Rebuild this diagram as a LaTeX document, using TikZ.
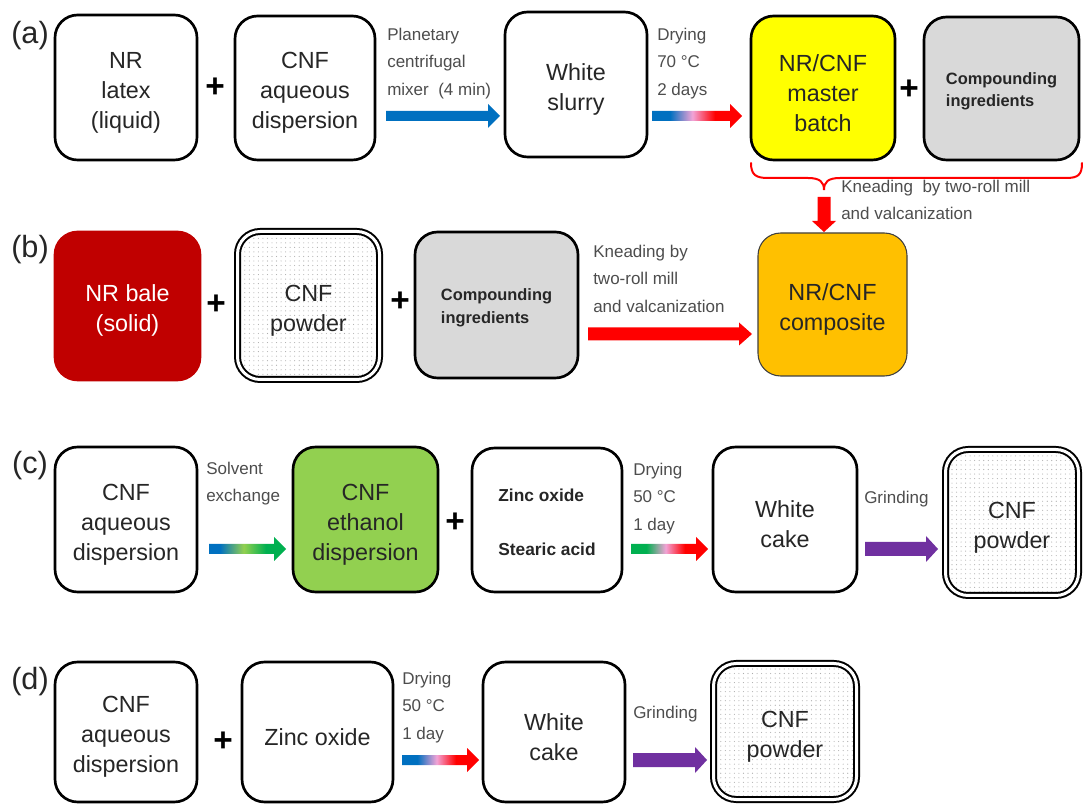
\documentclass[tikz,border=0pt]{standalone}
\usepackage{fontspec}
\setmainfont{Liberation Sans}
\usetikzlibrary{calc,patterns}
\definecolor{cBlue}{HTML}{0070C0}
\definecolor{cRed}{HTML}{FF0000}
\definecolor{cPink}{HTML}{F2A3D6}
\definecolor{cGreen}{HTML}{00B050}
\definecolor{cLGreen}{HTML}{92D050}
\definecolor{cPurple}{HTML}{7030A0}
\definecolor{cYellow}{HTML}{FFFF00}
\definecolor{cGray}{HTML}{D9D9D9}
\definecolor{cDRed}{HTML}{C00000}
\definecolor{cOrange}{HTML}{FFC000}
\definecolor{cText}{HTML}{262626}
\definecolor{cLab}{HTML}{4D4D4D}
\pgfdeclarehorizontalshading{gBlueRed}{100bp}{color(0bp)=(cBlue); color(35bp)=(cBlue); color(47.5bp)=(cPink); color(60bp)=(cRed); color(100bp)=(cRed)}
\pgfdeclarehorizontalshading{gGreenRed}{100bp}{color(0bp)=(cGreen); color(35bp)=(cGreen); color(47.5bp)=(cPink); color(60bp)=(cRed); color(100bp)=(cRed)}
\pgfdeclarehorizontalshading{gBlueGreen}{100bp}{color(0bp)=(cBlue); color(32bp)=(cBlue); color(47.5bp)=(cLGreen); color(62bp)=(cGreen); color(100bp)=(cGreen)}
\pgfdeclarepatternformonly{sdots}{\pgfqpoint{-1pt}{-1pt}}{\pgfqpoint{1pt}{1pt}}{\pgfqpoint{3.4pt}{3.4pt}}{%
  \pgfpathcircle{\pgfqpoint{0pt}{0pt}}{0.42pt}\pgfusepath{fill}}
\newcommand\tupA{\rule{0pt}{20pt}}
\newcommand\tupB{\rule{0pt}{13pt}}
% style, start, end, shaft half, head half, head length
\newcommand\fatarrow[6]{%
  \path[#1] ($(#2)+(0,-#4)$) -- ($(#3)+(-#6,-#4)$) -- ($(#3)+(-#6,-#5)$) -- (#3)
    -- ($(#3)+(-#6,#5)$) -- ($(#3)+(-#6,#4)$) -- ($(#2)+(0,#4)$) -- cycle;}
\begin{document}
\begin{tikzpicture}[x=0.75pt,y=-0.75pt,
  frame/.style n args={4}{at={({(#1+#3)/2},{(#2+#4)/2})}, minimum width={(#3-#1)*0.75pt}, minimum height={(#4-#2)*0.75pt}},
  box/.style={draw=black, line width=2pt, rounded corners=17pt, inner sep=0pt, align=center, text=cText, font=\fontsize{17.5}{22.5}\selectfont},
  pbox/.style={box, line width=1.5pt, double=white, double distance=2.25pt, pattern=sdots, pattern color=black!32},
  bbox/.style={box, font=\bfseries\fontsize{12.3}{17}\selectfont, align=left},
  lab/.style={anchor=north west, inner sep=0pt, align=left, text=cLab, font=\fontsize{12.75}{20.5}\selectfont},
  plus/.style={inner sep=0pt, font=\bfseries\fontsize{25}{25}\selectfont, text=black},
  tag/.style={inner sep=0pt, font=\fontsize{23}{23}\selectfont, text=cText},
]
\useasboundingbox[fill=white] (0,0) rectangle (1083,805);

% ---------------- (a)
\node[tag] (ta) at (30,36) {(a)};
\node[box, frame={55}{15}{197}{160}] (latex) {\tupA NR\\latex\\(liquid)};
\node[plus] (pa1) at (215,88) {+};
\node[box, frame={235}{16}{375}{160}] (cnfaq) {\tupA CNF\\aqueous\\dispersion};
\node[lab] (lpl) at (387,28) {Planetary\\centrifugal\\mixer\ \ (4 min)};
\node[box, frame={505}{12}{647}{157}] (slurry) {\tupA White\\slurry};
\node[lab] (ldr1) at (657,28) {Drying\\70 °C\\2 days};
\node[box, fill=cYellow, frame={751}{16}{895}{160}] (mb) {\tupA NR/CNF\\master\\batch};
\node[plus] (pa2) at (909,90) {+};
\node[bbox, fill=cGray, frame={924}{17}{1079}{160}] (comp1) {\tupB Compounding\\ingredients};

\coordinate (a1s) at (386,116); \coordinate (a1e) at (500,116);
\fatarrow{fill=cBlue}{a1s}{a1e}{5}{12}{12}
\coordinate (a2s) at (652,116); \coordinate (a2e) at (742,116);
\fatarrow{shading=gBlueRed}{a2s}{a2e}{5}{12}{12}

% brace and down arrow
\draw[cRed, line width=1.5pt, line cap=round]
  (751,163) .. controls (751,175) and (756,178) .. (768,178) -- (808,178)
  .. controls (820,178) and (824,182) .. (824,190)
  .. controls (824,182) and (828,178) .. (840,178) -- (1066,178)
  .. controls (1078,178) and (1082,175) .. (1082,163);
\node[lab] (lkn1) at (841,180) {Kneading\ \ by two-roll mill\\and valcanization};

% ---------------- (b)
\node[tag] (tb) at (30,250) {(b)};
\node[box, fill=cDRed, draw=cDRed, text=white, frame={55}{232}{200}{380}] (bale) {\tupA NR bale\\(solid)};
\node[plus] (pb1) at (216,305) {+};
\node[pbox, frame={237.5}{231.5}{379.5}{379.5}] (pow1) {\tupA CNF\\powder};
\node[plus] (pb2) at (400,302) {+};
\node[bbox, fill=cGray, frame={415}{232}{578}{378}] (comp2) {\tupB Compounding\\ingredients};
\node[lab] (lkn2) at (593,245) {Kneading by\\two-roll mill\\and valcanization};
\node[box, fill=cOrange, draw=black!75, line width=0.8pt, frame={758}{233}{907}{376}] (compo) {\tupA NR/CNF\\composite};

\coordinate (b1s) at (588,334); \coordinate (b1e) at (752,334);
\fatarrow{fill=cRed}{b1s}{b1e}{6.5}{11.5}{13}
\coordinate (dA) at (824,197); \coordinate (dB) at (824,232);
\path[fill=cRed] ($(dA)+(-6.5,0)$) -- ($(dB)+(-6.5,-11)$) -- ($(dB)+(-12,-11)$) -- (dB)
  -- ($(dB)+(12,-11)$) -- ($(dB)+(6.5,-11)$) -- ($(dA)+(6.5,0)$) -- cycle;

% ---------------- (c)
\node[tag] (tc) at (30,466) {(c)};
\node[box, frame={55}{447}{197}{592}] (aq3) {\tupA CNF\\aqueous\\dispersion};
\node[lab] (lsv) at (206,462) {Solvent\\exchange};
\node[box, fill=cLGreen, frame={293}{447}{438}{592}] (eth) {\tupA CNF\\ethanol\\dispersion};
\node[plus] (pc1) at (455,523) {+};
\node[box, align=left, font=\bfseries\fontsize{13}{17}\selectfont, frame={472}{448}{622}{592}] (zn) {\tupB Zinc oxide\\[23pt]Stearic acid};
\node[lab] (ldr2) at (633,463) {Drying\\50 °C\\1 day};
\node[box, frame={713}{447}{857}{592}] (cake3) {\tupA White\\cake};
\node[lab] (lgr1) at (864,491) {Grinding};
\node[pbox, frame={945.5}{449.5}{1078.5}{595.5}] (pow3) {\tupA CNF\\powder};

\coordinate (c1s) at (209,549); \coordinate (c1e) at (286,549);
\fatarrow{shading=gBlueGreen}{c1s}{c1e}{5}{12}{12}
\coordinate (c2s) at (631,549); \coordinate (c2e) at (708,549);
\fatarrow{shading=gGreenRed}{c2s}{c2e}{5}{12}{12}
\coordinate (c3s) at (865,549); \coordinate (c3e) at (938,549);
\fatarrow{fill=cPurple}{c3s}{c3e}{7}{13}{12}

% ---------------- (d)
\node[tag] (td) at (30,682) {(d)};
\node[box, frame={55}{662}{197}{802}] (aq4) {\tupA CNF\\aqueous\\dispersion};
\node[plus] (pd1) at (223,742) {+};
\node[box, frame={242}{662}{393}{802}] (zn4) {\tupA Zinc oxide};
\node[lab] (ldr3) at (402,672) {Drying\\50 °C\\1 day};
\node[box, frame={483}{662}{625}{802}] (cake4) {\tupA White\\cake};
\node[lab] (lgr2) at (633,706) {Grinding};
\node[pbox, frame={713.5}{663.5}{856.5}{799.5}] (pow4) {\tupA CNF\\powder};

\coordinate (d1s) at (402,760); \coordinate (d1e) at (479,760);
\fatarrow{shading=gBlueRed}{d1s}{d1e}{5}{12}{12}
\coordinate (d2s) at (633,760); \coordinate (d2e) at (707,760);
\fatarrow{fill=cPurple}{d2s}{d2e}{7}{13}{12}
\end{tikzpicture}
\end{document}
